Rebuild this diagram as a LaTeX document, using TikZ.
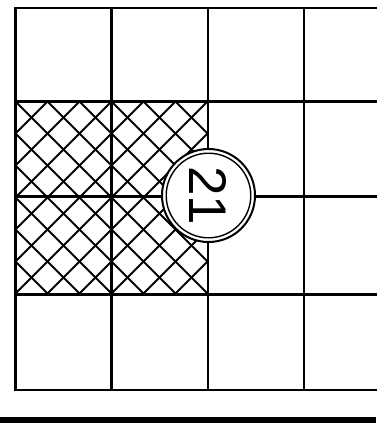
\documentclass[tikz,border=0pt]{standalone}
\usepackage{fontspec}
\setmainfont{Liberation Sans}
\begin{document}
\begin{tikzpicture}[x=1pt,y=-1pt,
  gridline/.style={line width=2.2pt,line cap=rect},
  hatchline/.style={line width=1.9pt},
  badge/.style={circle,draw,line width=2pt,fill=white,minimum size=93pt,inner sep=0pt,
    font=\fontsize{53}{53}\selectfont,rotate=-90},
  innerring/.style={line width=1.4pt}]
\useasboundingbox (0,0) rectangle (376,423);
% hatching
\begin{scope}
  \clip (15.5,101.5) rectangle (208,294.5);
  \foreach \k in {-8,...,8} {
    \draw[hatchline] (0,{86-32*\k}) -- (400,{486-32*\k});
  }
  \foreach \k in {-2,...,14} {
    \draw[hatchline] (0,{117+32*\k}) -- (400,{117+32*\k-400});
  }
\end{scope}
% grid
\foreach \x in {15.5,111.5,208,304} {
  \draw[gridline] (\x,8) -- (\x,390);
}
\foreach \y in {8,101.5,196.5,294.5,390} {
  \draw[gridline] (15.5,\y) -- (380,\y);
}
% badge
\node[badge] (c21) at (208.5,195.5) {21};
\draw[innerring] (c21.center) circle (42.3);
% bottom bar
\fill (0,416.5) rectangle (376,423);
\end{tikzpicture}
\end{document}
